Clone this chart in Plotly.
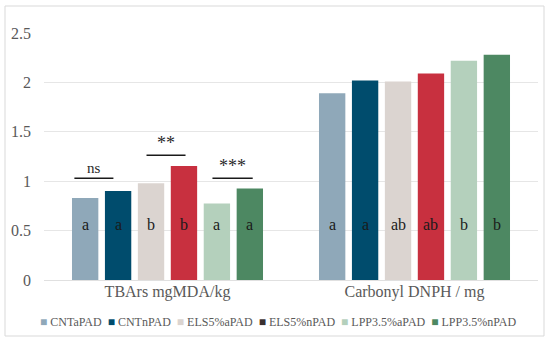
import plotly.graph_objects as go

categories = ["TBArs mgMDA/kg", "Carbonyl DNPH / mg"]
series_names = ["CNTaPAD", "CNTnPAD", "ELS5%aPAD", "ELS5%nPAD", "LPP3.5%aPAD", "LPP3.5%nPAD"]
values = {
    "CNTaPAD": [0.83, 1.89],
    "CNTnPAD": [0.90, 2.02],
    "ELS5%aPAD": [0.98, 2.01],
    "ELS5%nPAD": [1.155, 2.09],
    "LPP3.5%aPAD": [0.775, 2.22],
    "LPP3.5%nPAD": [0.926, 2.28],
}
letters = {
    "CNTaPAD": ["a", "a"],
    "CNTnPAD": ["a", "a"],
    "ELS5%aPAD": ["b", "ab"],
    "ELS5%nPAD": ["b", "ab"],
    "LPP3.5%aPAD": ["a", "b"],
    "LPP3.5%nPAD": ["a", "b"],
}
y_tick_vals = [0, 0.5, 1, 1.5, 2, 2.5]
y_tick_text = ["0", "0.5", "1", "1.5", "2", "2.5"]
bar_colors = ["#8fa8b9", "#004c6d", "#dbd4d0", "#c8303f", "#b4d0bc", "#4d8862"]
legend_colors = ["#8fa8b9", "#004c6d", "#dbd4d0", "#3a3030", "#b4d0bc", "#4d8862"]
sig_labels = ["ns", "**", "***"]

FONT = "Liberation Serif"
GRAY = "#595959"

fig = go.Figure()
for i, name in enumerate(series_names):
    fig.add_trace(go.Bar(
        x=categories, y=values[name], name=name,
        marker=dict(color=bar_colors[i], line=dict(width=0)),
        showlegend=False, hoverinfo="skip",
    ))

bargap = 0.2
slot = (1 - bargap) / len(series_names)
annotations = []
for i, name in enumerate(series_names):
    for c in range(len(categories)):
        annotations.append(dict(
            x=c + (i - 2.5) * slot, y=0.56, xref="x", yref="y",
            text=letters[name][c], showarrow=False,
            font=dict(family=FONT, size=16, color="#1a1a1a"),
        ))

sig_pos = [(-0.377, -0.219, 1.03), (-0.085, 0.073, 1.263), (0.182, 0.345, 1.03)]
shapes = []
for lab, (x0, x1, yv) in zip(sig_labels, sig_pos):
    shapes.append(dict(type="line", xref="x", yref="y", x0=x0, x1=x1, y0=yv, y1=yv,
                       line=dict(color="#1a1a1a", width=1.5)))
    annotations.append(dict(x=(x0 + x1) / 2, y=yv, xref="x", yref="y", yanchor="bottom",
                            text=lab, showarrow=False,
                            font=dict(family=FONT, size=18 if "*" in lab else 15, color="#2a2a2a")))

# legend (compact, as in the original)
legend_html = "  ".join(
    f"<span style='color:{c}'>■</span> {n}" for n, c in zip(series_names, legend_colors)
)
annotations.append(dict(x=(278 - 44) / 494, y=(280 - 322) / 247, xref="paper", yref="paper",
                        xanchor="center", yanchor="middle", text=legend_html, showarrow=False,
                        font=dict(family=FONT, size=12, color=GRAY)))

# outer border
shapes.append(dict(type="rect", xref="paper", yref="paper",
                   x0=(5 - 44) / 494, x1=(544 - 44) / 494,
                   y0=(280 - 336) / 247, y1=(280 - 6) / 247,
                   line=dict(color="#d9d9d9", width=1)))

fig.update_layout(
    width=550, height=342,
    margin=dict(l=44, r=12, t=33, b=62),
    paper_bgcolor="white", plot_bgcolor="white",
    barmode="group", bargap=bargap, bargroupgap=0.2,
    font=dict(family=FONT, color=GRAY),
    showlegend=False,
    xaxis=dict(range=[-0.5, 1.5], tickfont=dict(size=16, color=GRAY), showgrid=False,
               showline=False, ticks=""),
    yaxis=dict(range=[0, 2.5], tickvals=y_tick_vals, ticktext=y_tick_text,
               gridcolor="#e6e6e6", gridwidth=1,
               zeroline=True, zerolinecolor="#e0e0e0", zerolinewidth=1,
               tickfont=dict(size=16, color=GRAY), ticks="", showline=False,
               ticklabelstandoff=12),
    annotations=annotations, shapes=shapes,
)

fig.write_html("out.html", config={"displayModeBar": False},
               post_script="document.body.style.margin='0';document.body.style.overflow='hidden';")
